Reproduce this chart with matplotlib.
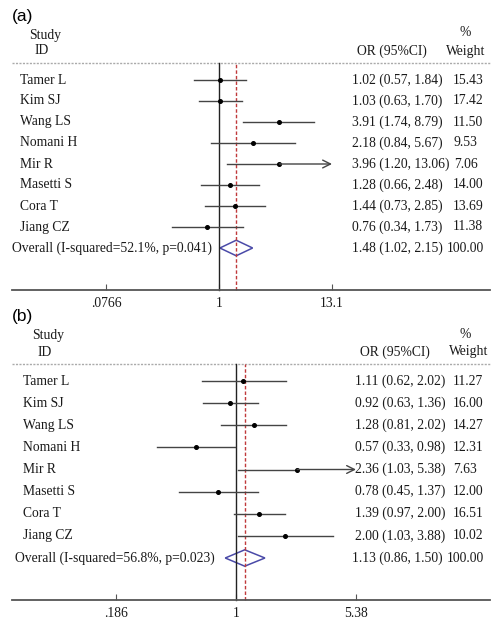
import numpy as np
import matplotlib
matplotlib.use("Agg")
import matplotlib.pyplot as plt
from matplotlib.patches import Polygon
from matplotlib.transforms import blended_transform_factory

studies = ["Tamer L", "Kim SJ", "Wang LS", "Nomani H", "Mir R", "Masetti S", "Cora T", "Jiang CZ"]

# Panel (a)
or_a = [1.02, 1.03, 3.91, 2.18, 3.96, 1.28, 1.44, 0.76]
lo_a = [0.57, 0.63, 1.74, 0.84, 1.20, 0.66, 0.73, 0.34]
hi_a = [1.84, 1.70, 8.79, 5.67, 13.06, 2.48, 2.85, 1.73]
w_a = ["15.43", "17.42", "11.50", "9.53", "7.06", "14.00", "13.69", "11.38"]
overall_a = (1.48, 1.02, 2.15)
overall_label_a = "Overall (I-squared=52.1%, p=0.041)"
ticks_a = [0.0766, 1, 13.1]
ticklabels_a = [".0766", "1", "13.1"]

# Panel (b)
or_b = [1.11, 0.92, 1.28, 0.57, 2.36, 0.78, 1.39, 2.00]
lo_b = [0.62, 0.63, 0.81, 0.33, 1.03, 0.45, 0.97, 1.03]
hi_b = [2.02, 1.36, 2.02, 0.98, 5.38, 1.37, 2.00, 3.88]
w_b = ["11.27", "16.00", "14.27", "12.31", "7.63", "12.00", "16.51", "10.02"]
overall_b = (1.13, 0.86, 1.50)
overall_label_b = "Overall (I-squared=56.8%, p=0.023)"
ticks_b = [0.186, 1, 5.38]
ticklabels_b = [".186", "1", "5.38"]

W, H = 504, 624
fig = plt.figure(figsize=(W / 100, H / 100), dpi=100)
renderer = fig.canvas.get_renderer()
SERIF = "Liberation Serif"
FS = 9.8
TXT = "#1a1a1a"


def ftext(x, y, s, **kw):
    kw.setdefault("family", SERIF)
    kw.setdefault("fontsize", FS)
    kw.setdefault("va", "center")
    kw.setdefault("color", TXT)
    fig.text(x / W, 1 - y / H, s, **kw)


def panel(letter, top, bottom, one_px, px_per_ln, ors, los, his, ws, overall,
          olabel, ticks, tlabels, dx):
    left_px, right_px = 12, 490
    ax = fig.add_axes([left_px / W, 1 - bottom / H, (right_px - left_px) / W, (bottom - top) / H])
    ax.set_xscale("log")
    xmin = np.exp((left_px - one_px) / px_per_ln)
    xmax = np.exp((right_px - one_px) / px_per_ln)
    ax.set_xlim(xmin, xmax)
    row0 = top + 17
    step = (bottom - top - 17 - 42) / 8.0
    ax.set_ylim((bottom - row0) / step, -(row0 - top) / step)
    for s in ["top", "left", "right"]:
        ax.spines[s].set_visible(False)
    ax.spines["bottom"].set_color("#555555")
    ax.spines["bottom"].set_linewidth(1.3)
    ax.set_yticks([])
    ax.set_xticks(ticks)
    ax.set_xticklabels(tlabels, family=SERIF, fontsize=FS, color=TXT)
    ax.minorticks_off()
    ax.tick_params(axis="x", direction="in", length=4, width=0.8, color="#555555", pad=5)

    y0, y1 = ax.get_ylim()
    # header dotted line
    ax.axhline(y1, color="#aaaaaa", lw=1.0, ls=(0, (1.5, 1)), clip_on=False)
    # null line and overall line
    ax.plot([1, 1], [y0, y1], color="#222222", lw=1.0, clip_on=False)
    ax.plot([overall[0]] * 2, [y0, y1], color="#c0393b", lw=1.0, ls=(0, (2.5, 1.5)), clip_on=False)

    tmax = max(ticks)
    for i, (o, l, h) in enumerate(zip(ors, los, his)):
        if h >= tmax / 1.01:
            ax.plot([l, o], [i, i], color="#444444", lw=1.0)
            ax.annotate("", xy=(tmax, i), xytext=(o, i),
                        arrowprops=dict(arrowstyle="->", color="#444444", lw=1.0,
                                        mutation_scale=14, shrinkA=0, shrinkB=0))
        else:
            ax.plot([l, h], [i, i], color="#444444", lw=1.0)
        ax.plot(o, i, "o", color="black", ms=2.6)

    n = len(ors)
    est, lo, hi = overall
    dh = 0.37
    ax.add_patch(Polygon([(lo, n), (est, n - dh), (hi, n), (est, n + dh)], closed=True,
                         fill=False, edgecolor="#4a4aa8", lw=1.1))

    tr = blended_transform_factory(fig.transFigure, ax.transData)
    kw = dict(transform=tr, family=SERIF, fontsize=FS, va="center", color=TXT)
    for i, s in enumerate(studies):
        ax.text((20 + dx) / W, i, s, **kw)
        t = ax.text((352 + dx) / W, i, f"{ors[i]:.2f} ({los[i]:.2f}, {his[i]:.2f})", **kw)
        x1 = t.get_window_extent(renderer).x1
        wx = max(453, x1 + 5)
        ax.text(wx / W, i, ws[i], **kw)
    ax.text((12 + dx) / W, n, olabel, **kw)
    t = ax.text(352 / W, n, f"{est:.2f} ({lo:.2f}, {hi:.2f})", **kw)
    x1 = t.get_window_extent(renderer).x1
    ax.text(max(447, x1 + 4) / W, n, "100.00", **kw)

    # headers
    ftext(12, top - 47, letter, family="Liberation Sans", fontsize=12.5, color="black")
    ftext(29 + dx, top - 28, "Study")
    ftext(35 + dx, top - 12, "ID")
    ftext(357 + dx, top - 12, "OR (95%CI)")
    ftext(465, top - 30, "%", ha="center")
    ftext(446 + dx, top - 12, "Weight")


panel("(a)", 63, 290, 219, 113 / np.log(13.1), or_a, lo_a, hi_a, w_a, overall_a,
      overall_label_a, ticks_a, ticklabels_a, 0)
panel("(b)", 364, 600, 236, 120 / np.log(5.38), or_b, lo_b, hi_b, w_b, overall_b,
      overall_label_b, ticks_b, ticklabels_b, 3)

fig.savefig("out.png", dpi=100)
